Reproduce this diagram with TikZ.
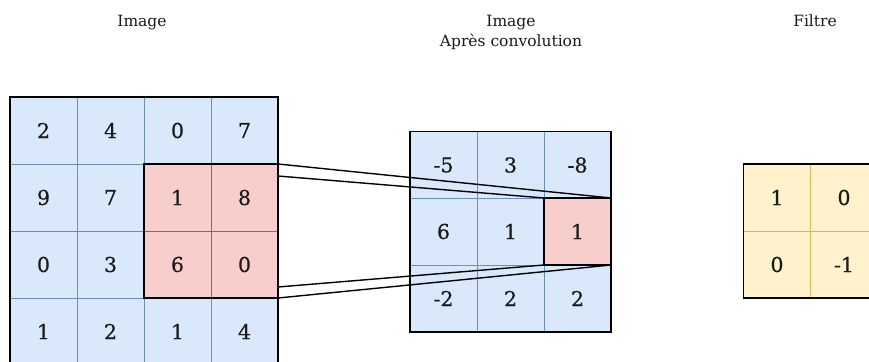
\documentclass[tikz,border=0pt]{standalone}
\usepackage{fontspec}
\setmainfont{DejaVu Serif}
\newfontfamily\numfont[FakeBold=0.4]{DejaVu Serif}
\usetikzlibrary{calc}
\definecolor{bfill}{HTML}{DAE8FC}
\definecolor{bline}{HTML}{6C8EBF}
\definecolor{rfill}{HTML}{F8CECC}
\definecolor{rline}{HTML}{B85450}
\definecolor{yfill}{HTML}{FFF2CC}
\definecolor{yline}{HTML}{D6B656}
\definecolor{ink}{HTML}{1A1A1A}
\begin{document}
\begin{tikzpicture}[x=1pt,y=-1pt,
  cell/.style={minimum width=67pt,minimum height=67pt,inner sep=0pt,outer sep=0pt,line width=0.9pt,text=ink,font=\numfont\fontsize{20.5}{24}\selectfont},
  bcell/.style={cell,fill=bfill,draw=bline},
  rcell/.style={cell,fill=rfill,draw=rline},
  ycell/.style={cell,fill=yfill,draw=yline},
  frame/.style={draw=black,line width=1.4pt},
  title/.style={anchor=base,text=ink,font=\fontsize{15.5}{18}\selectfont},
  link/.style={draw=black,line width=1.4pt}]
\useasboundingbox (0,0) rectangle (869,361);
\clip (0,0) rectangle (869,361);

% titles
\node[title] (t1) at (142,27) {Image};
\node[title] (t2) at (511,27) {Image};
\node[title] (t3) at (511,47) {Après convolution};
\node[title] (t4) at (815,27) {Filtre};

% left image
\node[bcell] (L00) at (43.5,130.5) {2};
\node[bcell] (L01) at (110.5,130.5) {4};
\node[bcell] (L02) at (177.5,130.5) {0};
\node[bcell] (L03) at (244.5,130.5) {7};
\node[bcell] (L10) at (43.5,197.5) {9};
\node[bcell] (L11) at (110.5,197.5) {7};
\node[rcell] (L12) at (177.5,197.5) {1};
\node[rcell] (L13) at (244.5,197.5) {8};
\node[bcell] (L20) at (43.5,264.5) {0};
\node[bcell] (L21) at (110.5,264.5) {3};
\node[rcell] (L22) at (177.5,264.5) {6};
\node[rcell] (L23) at (244.5,264.5) {0};
\node[bcell] (L30) at (43.5,331.5) {1};
\node[bcell] (L31) at (110.5,331.5) {2};
\node[bcell] (L32) at (177.5,331.5) {1};
\node[bcell] (L33) at (244.5,331.5) {4};
\draw[frame] (L00.north west) rectangle (L33.south east);
\draw[frame] (L12.north west) rectangle (L23.south east);

% result
\node[bcell] (M00) at (443.5,165) {-5};
\node[bcell] (M01) at (510.5,165) {3};
\node[bcell] (M02) at (577.5,165) {-8};
\node[bcell] (M10) at (443.5,231.5) {6};
\node[bcell] (M11) at (510.5,231.5) {1};
\node[rcell] (M12) at (577.5,231.5) {1};
\node[bcell] (M20) at (443.5,298.5) {-2};
\node[bcell] (M21) at (510.5,298.5) {2};
\node[bcell] (M22) at (577.5,298.5) {2};
\draw[frame] (M00.north west) rectangle (M22.south east);
\draw[frame] (M12.north west) rectangle (M12.south east);

% filter
\node[ycell] (F00) at (777,197.5) {1};
\node[ycell] (F01) at (844,197.5) {0};
\node[ycell] (F10) at (777,264.5) {0};
\node[ycell] (F11) at (844,264.5) {-1};
\draw[frame] (F00.north west) rectangle (F11.south east);

% connectors
\coordinate (lt) at ($(L13.north east)+(0,12)$);
\coordinate (lb) at ($(L23.south east)+(0,-11)$);
\draw[link] (L13.north east) -- (M12.north east);
\draw[link] (lt) -- (M12.north west);
\draw[link] (L23.south east) -- (M12.south east);
\draw[link] (lb) -- (M12.south west);
\end{tikzpicture}
\end{document}
